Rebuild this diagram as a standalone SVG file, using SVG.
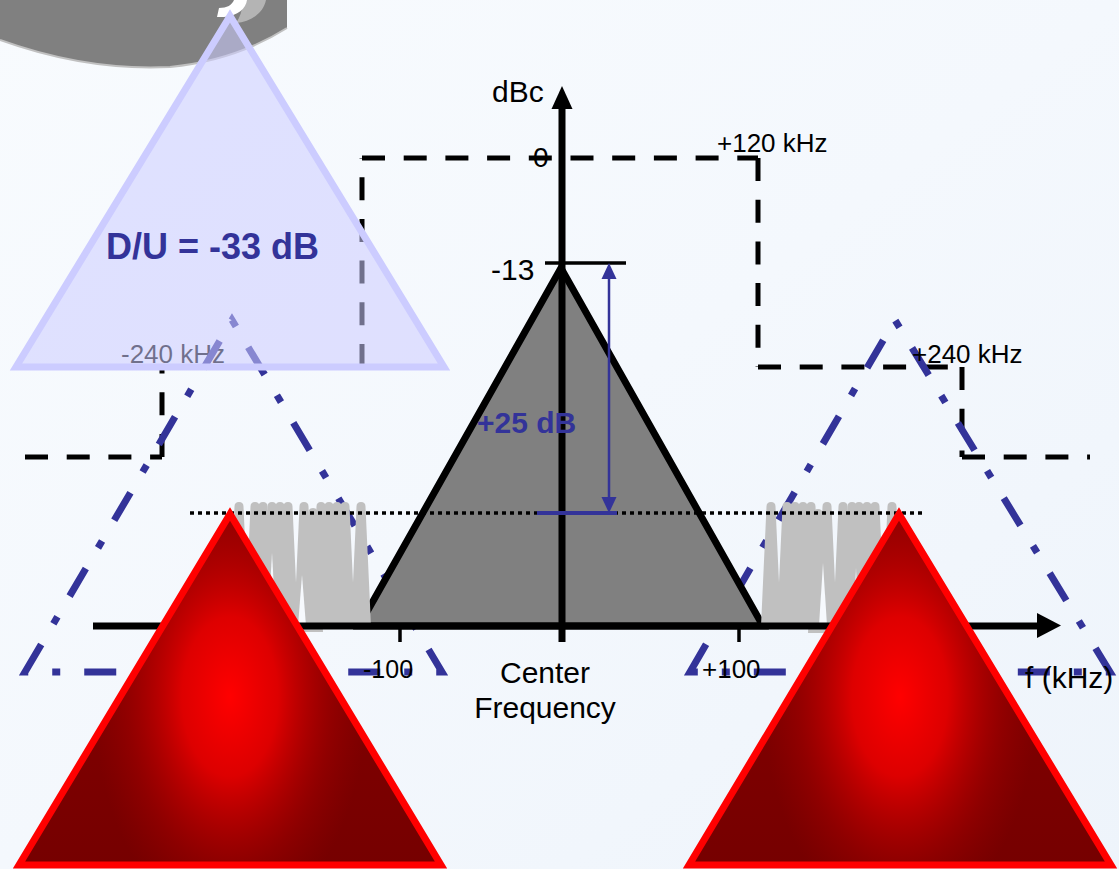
<svg xmlns="http://www.w3.org/2000/svg" width="1119" height="869" viewBox="0 0 1119 869">
<defs>
<linearGradient id="bg" x1="0" y1="0" x2="1" y2="1">
<stop offset="0" stop-color="#f8fbfe"/>
<stop offset="0.5" stop-color="#f4f8fd"/>
<stop offset="1" stop-color="#eef4fb"/>
</linearGradient>
<linearGradient id="redBase" x1="0" y1="0" x2="0" y2="1">
<stop offset="0" stop-color="#8a0000"/>
<stop offset="1" stop-color="#760000"/>
</linearGradient>
<radialGradient id="redGlow" cx="0.5" cy="0.52" r="0.5" gradientTransform="translate(0.5,0.52) scale(0.65,1.3) translate(-0.5,-0.52)">
<stop offset="0" stop-color="#ff0000" stop-opacity="1"/>
<stop offset="0.35" stop-color="#ea0000" stop-opacity="0.88"/>
<stop offset="0.75" stop-color="#b40000" stop-opacity="0.35"/>
<stop offset="1" stop-color="#a00000" stop-opacity="0"/>
</radialGradient>
<path id="finger" d="M-10,124 L-4.5,4.5 Q-4.5,0 0,0 Q4.5,0 4.5,4.5 L10,124 Z"/>
</defs>
<style>
.t{font-family:"Liberation Sans",Arial,sans-serif;fill:#000}
.b{font-weight:bold;fill:#333399}
.mask{fill:none;stroke:#000;stroke-width:5;stroke-dasharray:23 18.7}
.dd{fill:none;stroke:#333399;stroke-width:7;stroke-dasharray:32 24 8 24}
.fg{fill:#c0c0c0}
.sl{fill:#f6f9fd}
.redbody{fill:url(#redBase)}
.redshade{fill:url(#redGlow)}
.redline{fill:none;stroke:#ff0000;stroke-width:7}
</style>

<rect id="background" x="0" y="0" width="1119" height="869" fill="url(#bg)"/>

<g id="corner-shape">
<path d="M0,0 L287,0 L287,28 C260,45 220,62 170,67 C110,70 50,58 0,40 Z" fill="#808080"/>
<path d="M287,28 C260,45 220,62 170,67 C110,70 50,58 0,40" fill="none" stroke="#c0c0c0" stroke-width="2"/>
<path d="M232,0 L266,0 C263,14 250,22 236,23 C241,16 243,8 242,0 Z" fill="#b4b4b4"/>
<path d="M217,17 L219,8 C227,8 232,5 234,0 L247,0 C246,8 238,16 224,17 Z" fill="#ffffff"/>
</g>

<g id="mask-line">
<path class="mask" d="M25,457 L162,457"/>
<path class="mask" d="M162,457 L162,367"/>
<path class="mask" d="M162,367 L362,367"/>
<path class="mask" d="M362,367 L362,158"/>
<path class="mask" d="M362,158 L758,158"/>
<path class="mask" d="M758,158 L758,367"/>
<path class="mask" d="M758,367 L962,367"/>
<path class="mask" d="M962,367 L962,457"/>
<path class="mask" d="M962,457 L1090,457"/>
</g>

<text id="label-m240" class="t" x="121" y="363" font-size="26">-240 kHz</text>

<g id="adjacent-channels">
<path class="dd" d="M25,672 L232,320 L442,672 Z"/>
<path class="dd" d="M690,672 L895,320 L1110,672 Z"/>
</g>

<g id="du-node">
<path d="M230,16 L16,367 L444,367 Z" fill="#ccccff" fill-opacity="0.55" stroke="#ccccff" stroke-width="7" stroke-linejoin="miter"/>
<text class="t b" x="106" y="259" font-size="36">D/U = -33 dB</text>
</g>

<g id="center-channel">
<path d="M561,268 L359,626 L763,626 Z" fill="#808080" stroke="#000" stroke-width="7" stroke-linejoin="miter"/>
</g>

<g id="noise-left">
<use href="#finger" class="fg" x="239" y="502"/>
<use href="#finger" class="fg" x="255" y="502"/>
<use href="#finger" class="fg" x="263" y="502"/>
<use href="#finger" class="fg" x="272" y="502"/>
<use href="#finger" class="fg" x="280" y="502"/>
<use href="#finger" class="fg" x="288" y="502"/>
<use href="#finger" class="fg" x="304" y="502"/>
<use href="#finger" class="fg" x="313" y="508"/>
<use href="#finger" class="fg" x="321" y="502"/>
<use href="#finger" class="fg" x="329" y="502"/>
<use href="#finger" class="fg" x="337" y="502"/>
<use href="#finger" class="fg" x="345" y="502"/>
<use href="#finger" class="fg" x="361" y="502"/>
<path class="sl" d="M268,626 L272,553 L276,626 Z"/>
<path class="sl" d="M298,626 L302,575 L306,626 Z"/>
</g>

<g id="noise-right">
<use href="#finger" class="fg" x="771" y="502"/>
<use href="#finger" class="fg" x="787" y="502"/>
<use href="#finger" class="fg" x="795" y="502"/>
<use href="#finger" class="fg" x="803" y="502"/>
<use href="#finger" class="fg" x="811" y="502"/>
<use href="#finger" class="fg" x="818" y="509"/>
<use href="#finger" class="fg" x="827" y="502"/>
<use href="#finger" class="fg" x="843" y="502"/>
<use href="#finger" class="fg" x="852" y="502"/>
<use href="#finger" class="fg" x="859" y="502"/>
<use href="#finger" class="fg" x="867" y="502"/>
<use href="#finger" class="fg" x="875" y="502"/>
<use href="#finger" class="fg" x="892" y="502"/>
<path class="sl" d="M819,626 L823,563 L827,626 Z"/>
<path class="sl" d="M853,626 L856,568 L859,626 Z"/>
</g>

<g id="connectors">
<path d="M190,513 L926,513" fill="none" stroke="#000" stroke-width="3.5" stroke-dasharray="4 4"/>
<path d="M93,626 L1038,626" fill="none" stroke="#000" stroke-width="7"/>
<path d="M1037,613 L1061,625.5 L1037,638 Z" fill="#000"/>
<path d="M562,642 L562,106" fill="none" stroke="#000" stroke-width="7"/>
<path d="M551.5,109 L562,86 L572.5,109 Z" fill="#000"/>
<path d="M400,626 L400,642" stroke="#000" stroke-width="3.5"/>
<path d="M739,626 L739,642" stroke="#000" stroke-width="3.5"/>
<path d="M545,263 L626,263" stroke="#000" stroke-width="3.5"/>
<path d="M609,278 L609,498" stroke="#333399" stroke-width="2.5"/>
<path d="M609,263 L601.5,279 L616.5,279 Z" fill="#333399"/>
<path d="M609,513 L601.5,497 L616.5,497 Z" fill="#333399"/>
<path d="M537,513 L617,513" stroke="#333399" stroke-width="4"/>
</g>

<g id="red-left">
<path class="redbody" d="M230,514 L19,865 L441,865 Z"/>
<path class="redshade" d="M230,514 L19,865 L441,865 Z"/>
<path class="redline" d="M230,514 L19,865 L441,865 Z"/>
</g>

<g id="red-right">
<path class="redbody" d="M899,514 L689,865 L1111,865 Z"/>
<path class="redshade" d="M899,514 L689,865 L1111,865 Z"/>
<path class="redline" d="M899,514 L689,865 L1111,865 Z"/>
</g>

<g id="labels">
<text class="t" x="492" y="102" font-size="30">dBc</text>
<text class="t" x="533" y="167" font-size="28">0</text>
<text class="t" x="717" y="152" font-size="26">+120 kHz</text>
<text class="t" x="491" y="280" font-size="30">-13</text>
<text class="t b" x="477" y="433" font-size="30">+25 dB</text>
<text class="t" x="912" y="363" font-size="26">+240 kHz</text>
<text class="t" x="363" y="678" font-size="25">-100</text>
<text class="t" x="702" y="678" font-size="26">+100</text>
<text class="t" x="545" y="683" font-size="30" text-anchor="middle">Center</text>
<text class="t" x="545" y="718" font-size="30" text-anchor="middle">Frequency</text>
<text class="t" x="1025" y="688" font-size="30">f (kHz)</text>
</g>
</svg>
